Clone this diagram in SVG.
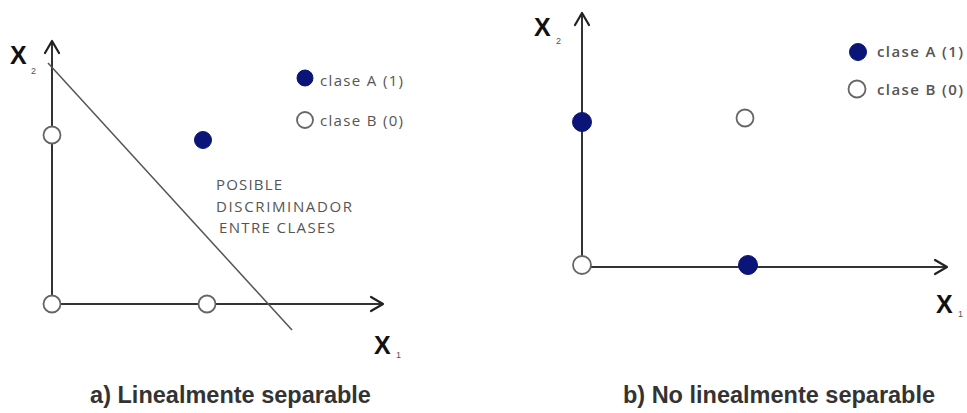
<svg xmlns="http://www.w3.org/2000/svg" width="967" height="413" viewBox="0 0 967 413">
<style>
.ax{stroke:#333;stroke-width:2;fill:none}
.ah{stroke:#222;stroke-width:2.2;fill:none;stroke-linecap:round;stroke-linejoin:round}
.op{fill:#fff;stroke:#666;stroke-width:1.8}
.fl{fill:#0b1577;stroke:#0b1577;stroke-width:1}
.lg{font-family:"Open Sans","Noto Sans",sans-serif;font-size:15px;fill:#555}
.lgb{font-family:"Open Sans","Noto Sans",sans-serif;font-size:15px;font-weight:600;fill:#555}
.dv{font-family:"Open Sans","Noto Sans",sans-serif;font-size:15px;fill:#555}
.xl{font-family:"Liberation Sans",Arial,sans-serif;font-weight:bold;font-size:25px;fill:#111}
.sb{font-family:"Liberation Sans",Arial,sans-serif;font-size:9px;fill:#555}
.cap{font-family:"Liberation Sans",Arial,sans-serif;font-weight:bold;font-size:23.5px;fill:#333;text-anchor:middle}
</style>
<g id="connectors">
<line class="ax" x1="52" y1="305" x2="52" y2="42"/>
<polyline class="ah" points="45,53 52,41 59,53"/>
<line class="ax" x1="52" y1="304" x2="382" y2="304"/>
<polyline class="ah" points="371,297 383,304 371,311"/>
<line class="ax" x1="48" y1="63" x2="292" y2="330" style="stroke:#555;stroke-width:1.5"/>
<line class="ax" x1="582" y1="267" x2="582" y2="14"/>
<polyline class="ah" points="575,25 582,13 589,25"/>
<line class="ax" x1="582" y1="267" x2="946" y2="267"/>
<polyline class="ah" points="935,260 947,267 935,274"/>
</g>
<g id="panel-a">
<text class="xl" x="10" y="64">X</text>
<text class="sb" x="31" y="74">2</text>
<text class="xl" x="374" y="354">X</text>
<text class="sb" x="396" y="358">1</text>
<circle id="a-p1" class="op" cx="52" cy="135" r="8.5"/>
<circle id="a-p2" class="op" cx="52" cy="304" r="8.5"/>
<circle id="a-p3" class="op" cx="207" cy="304" r="8.5"/>
<circle id="a-p4" class="fl" cx="203" cy="140" r="8.5"/>
<text class="dv" x="216" y="190" textLength="66" lengthAdjust="spacing">POSIBLE</text>
<text class="dv" x="216" y="212" textLength="136" lengthAdjust="spacing">DISCRIMINADOR</text>
<text class="dv" x="219" y="233" textLength="116" lengthAdjust="spacing">ENTRE CLASES</text>
</g>
<g id="legend-a">
<circle class="fl" cx="305" cy="78" r="8"/>
<text class="lg" x="320" y="86" textLength="83" lengthAdjust="spacing">clase A (1)</text>
<circle class="op" cx="305" cy="120" r="8"/>
<text class="lg" x="320" y="126" textLength="83" lengthAdjust="spacing">clase B (0)</text>
</g>
<g id="panel-b">
<text class="xl" x="534" y="36">X</text>
<text class="sb" x="556" y="44">2</text>
<text class="xl" x="936" y="313">X</text>
<text class="sb" x="958" y="317">1</text>
<circle id="b-p1" class="fl" cx="582" cy="122" r="9.5"/>
<circle id="b-p2" class="op" cx="745" cy="118" r="8.5"/>
<circle id="b-p3" class="op" cx="582" cy="265" r="9"/>
<circle id="b-p4" class="fl" cx="748" cy="265" r="9.5"/>
</g>
<g id="legend-b">
<circle class="fl" cx="858" cy="52" r="8.5"/>
<text class="lgb" x="877" y="57" textLength="86" lengthAdjust="spacing">clase A (1)</text>
<circle class="op" cx="857" cy="89" r="8.5"/>
<text class="lgb" x="877" y="95" textLength="86" lengthAdjust="spacing">clase B (0)</text>
</g>
<g id="captions">
<text class="cap" x="230.5" y="403">a) Linealmente separable</text>
<text class="cap" x="779" y="403">b) No linealmente separable</text>
</g>
</svg>
